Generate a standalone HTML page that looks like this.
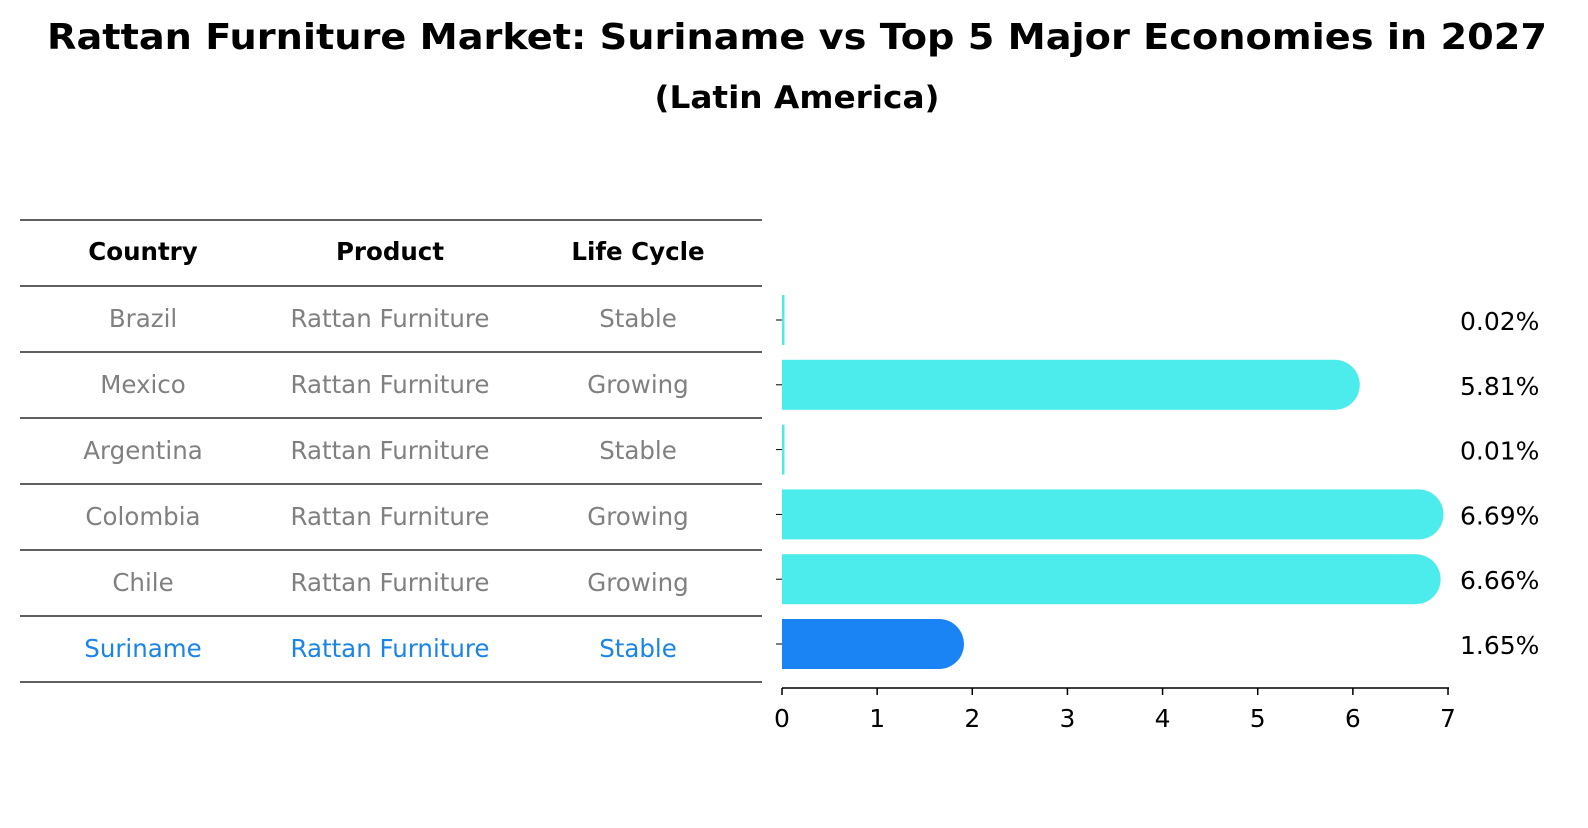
<!DOCTYPE html>
<html><head><meta charset="utf-8"><style>
body{margin:0;background:#fff;font-family:"Liberation Sans","DejaVu Sans",sans-serif}
</style></head><body>
<svg id="c" width="1588" height="823" xmlns="http://www.w3.org/2000/svg" font-family="DejaVu Sans, Liberation Sans, sans-serif">
<text x="797" y="49" text-anchor="middle" font-size="36" font-weight="bold" textLength="1500" lengthAdjust="spacingAndGlyphs">Rattan Furniture Market: Suriname vs Top 5 Major Economies in 2027</text>
<text x="797" y="108" text-anchor="middle" font-size="31" font-weight="bold" textLength="285" lengthAdjust="spacingAndGlyphs">(Latin America)</text>
<g id="table"></g>
<g id="bars"></g>
</svg>
<script>
const countries=["Brazil","Mexico","Argentina","Colombia","Chile","Suriname"];
const products=["Rattan Furniture","Rattan Furniture","Rattan Furniture","Rattan Furniture","Rattan Furniture","Rattan Furniture"];
const lifeCycles=["Stable","Growing","Stable","Growing","Growing","Stable"];
const values=[0.02,5.81,0.01,6.69,6.66,1.65];
const ticks=[0,1,2,3,4,5,6,7];
const NS="http://www.w3.org/2000/svg";
function mk(t,a,p){const e=document.createElementNS(NS,t);for(const k in a)e.setAttribute(k,a[k]);p.appendChild(e);return e;}
const x=v=>782+v*(1448-782)/7;
const yc=i=>320+i*64.8;
const tb=document.getElementById('table'),bg=document.getElementById('bars');
const cols=[143,390,638];
const rowY=i=>286+i*66;
for(let i=0;i<=countries.length+1;i++){
  const yy=i==0?220:rowY(i-1);
  const l=mk('line',{x1:20,x2:762,y1:yy,y2:yy,stroke:'#000','stroke-width':1.2},tb);
  
  
}
["Country","Product","Life Cycle"].forEach((h,j)=>{
  const t=mk('text',{x:cols[j],y:260,'text-anchor':'middle','font-size':24.5,'font-weight':'bold'},tb);
  t.textContent=h;
  
  
});
countries.forEach((c,i)=>{
  const col=c==="Suriname"?"#1a84e8":"#808080";
  [c,products[i],lifeCycles[i]].forEach((s,j)=>{
    const t=mk('text',{x:cols[j],y:rowY(i)+41,'text-anchor':'middle','font-size':24.5,fill:col},tb);
    t.textContent=s;
    
    
  });
  const v=values[i],y=yc(i),fill=c==="Suriname"?"#1a84f5":"#4beceb";
  const w=Math.max(x(v)-782,2.5);
  const r=mk('rect',{x:782,y:y-25,width:w,height:50,fill:fill},bg);
  
  
  if(v>0.1){
    const cap=mk('circle',{cx:x(v),cy:y,r:25,fill:fill},bg);
    
    
  }
  const tk=mk('line',{x1:776,x2:782,y1:y,y2:y,stroke:'#000','stroke-width':1},bg);
  
  
  const lb=mk('text',{x:1460,y:y+10,'font-size':25},bg);
  lb.textContent=v.toFixed(2)+'%';
  
  
});
const ax=mk('line',{x1:782,x2:1449,y1:688,y2:688,stroke:'#000','stroke-width':1.5},bg);


ticks.forEach(t=>{
  const l=mk('line',{x1:x(t),x2:x(t),y1:688,y2:695,stroke:'#000','stroke-width':1.5},bg);
  
  
  const tx=mk('text',{x:x(t),y:727,'text-anchor':'middle','font-size':25},bg);
  tx.textContent=t;
  
  
});
</script>
</body></html>
